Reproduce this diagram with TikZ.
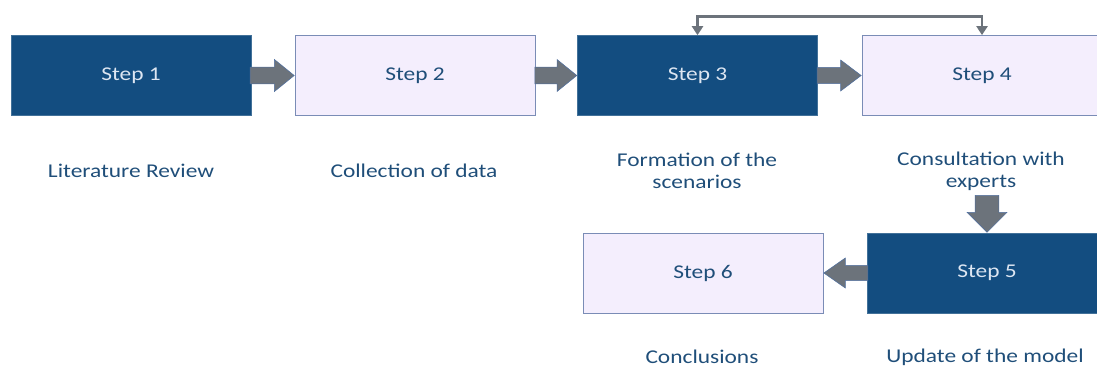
\documentclass[tikz,border=0pt]{standalone}
\usepackage{fontspec}
\setmainfont[FakeStretch=1.2]{Carlito}
\usetikzlibrary{shapes.arrows,calc,arrows.meta}
\definecolor{dkblue}{HTML}{134D80}
\definecolor{ltfill}{HTML}{F4EEFD}
\definecolor{ltedge}{HTML}{7A8CB6}
\definecolor{txtlight}{HTML}{DDE6F2}
\definecolor{txtdark}{HTML}{1F4E79}
\definecolor{arrgray}{HTML}{6C737B}
\definecolor{arredge}{HTML}{4F6FA0}
\tikzset{
  box/.style={rectangle, minimum width=240pt, minimum height=80pt, inner sep=0pt,
    font=\fontsize{19.5}{22}\selectfont},
  darkbox/.style={box, fill=dkblue, draw=dkblue!80!white, line width=0.6pt, text=txtlight},
  lightbox/.style={box, fill=ltfill, draw=ltedge, line width=0.8pt, text=txtdark},
  label/.style={align=center, text=txtdark, font=\fontsize{19.5}{22}\selectfont},
  blockarrow/.style={single arrow, fill=arrgray, draw=arredge, line width=0.5pt,
    single arrow head indent=0pt, shape border uses incircle=false},
  conn/.style={draw=arrgray, line width=2.6pt, {Triangle[length=9pt,width=11pt]}-{Triangle[length=9pt,width=11pt]}}
}
\begin{document}
\begin{tikzpicture}[x=1pt,y=-1pt]
\useasboundingbox (0,0) rectangle (1097,367);
\begin{scope}
\clip (0,0) rectangle (1097,367);
\node[darkbox]  (s1) at (131,75.5) {Step 1};
\node[lightbox] (s2) at (415,75.5) {Step 2};
\node[darkbox]  (s3) at (697.5,75.5) {Step 3};
\node[lightbox] (s4) at (982,75.5) {Step 4};
\node[darkbox]  (s5) at (987,273) {Step 5};
\node[lightbox] (s6) at (703,273) {Step 6};

\node[label] (l1) at (131,171) {Literature Review};
\node[label] (l2) at (414,171) {Collection of data};
\node[label] (l3) at (697,171) {Formation of the\\scenarios};
\node[label] (l4) at (981,171) {Consultation with\\experts};
\node[label] (l6) at (702,357) {Conclusions};
\node[label] (l5) at (985,357) {Update of the model};

% block arrows
\node[blockarrow, anchor=tip, minimum height=44pt, minimum width=32pt, inner sep=7.5pt, single arrow tip angle=78] (a12) at (s2.west) {};
\node[blockarrow, anchor=tip, minimum height=42pt, minimum width=32pt, inner sep=7.5pt, single arrow tip angle=78] (a23) at (s3.west) {};
\node[blockarrow, anchor=tip, minimum height=44pt, minimum width=31pt, inner sep=7.5pt, single arrow tip angle=74] (a34) at (s4.west) {};
\node[blockarrow, anchor=tip, shape border rotate=270, minimum height=37pt, minimum width=40pt, inner sep=10pt, single arrow tip angle=90] (a45) at (s5.north) {};
\node[blockarrow, anchor=tip, shape border rotate=180, minimum height=44pt, minimum width=30pt, inner sep=7pt, single arrow tip angle=70] (a56) at (s6.east) {};

% feedback connector between step 3 and step 4
\draw[conn] (s3.north) -- ++(0,-19) -| (s4.north);
\end{scope}
\end{tikzpicture}
\end{document}
